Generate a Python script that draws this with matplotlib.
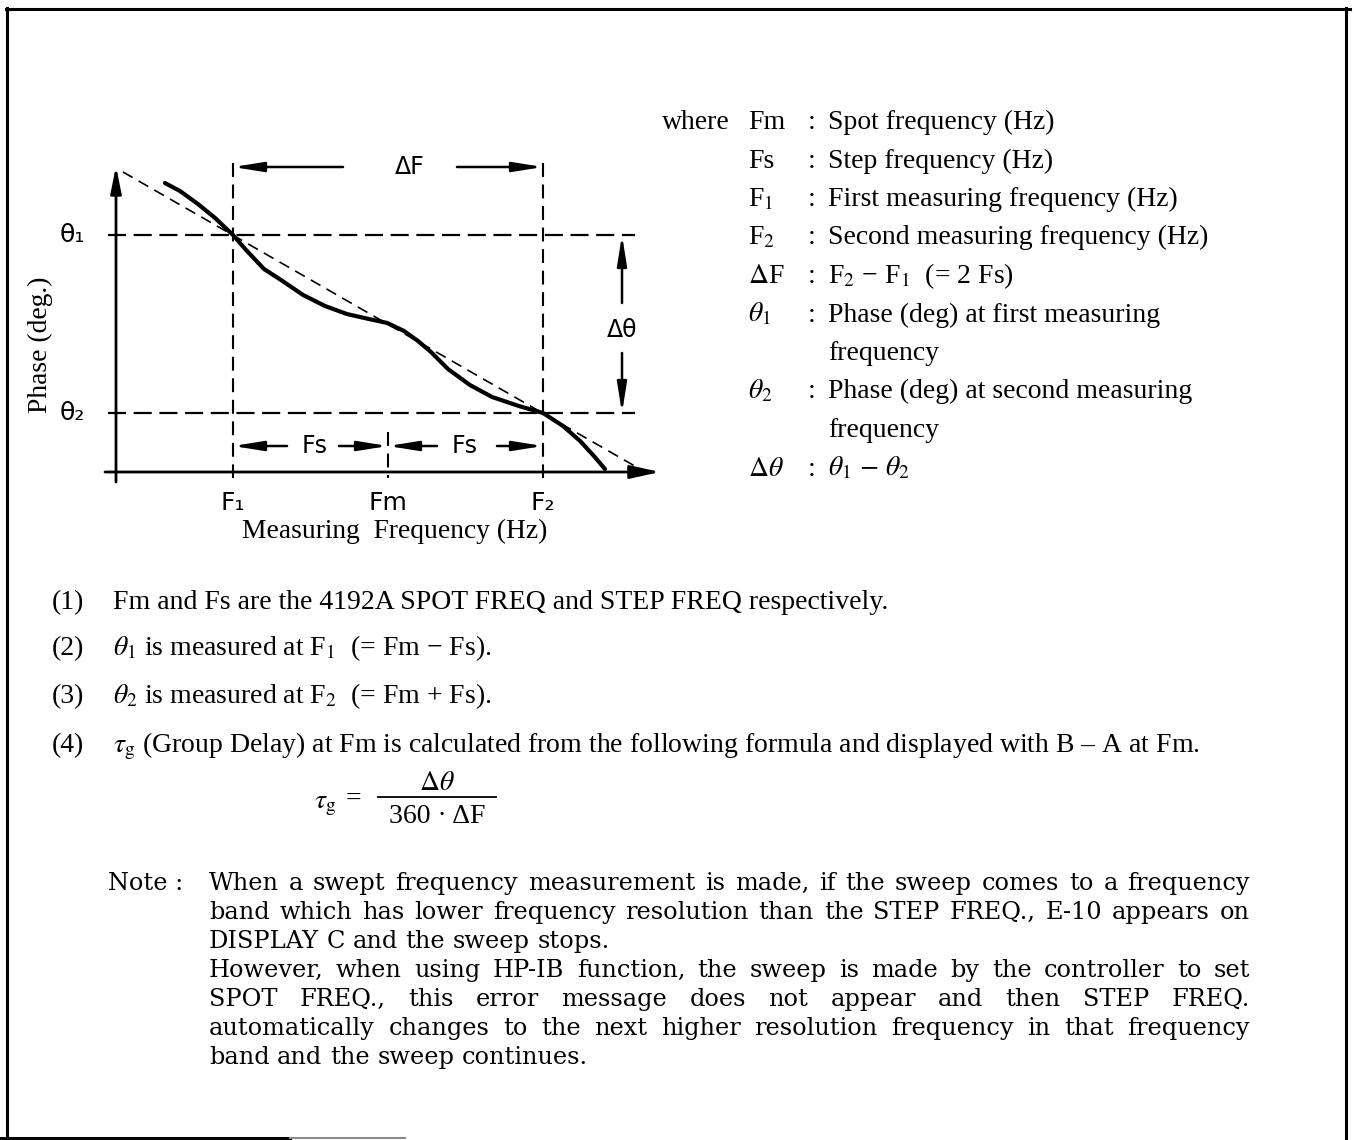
import matplotlib
matplotlib.use("Agg")
import matplotlib.pyplot as plt

plt.rcParams["mathtext.fontset"] = "stix"
plt.rcParams["lines.scale_dashes"] = False

W, H, DPI = 1354, 1140, 100

# ---------------- data (diagram units: frequency step = 1, phase step = 1) -------------
freq_F1, freq_Fm, freq_F2 = 1.0, 2.0, 3.0
phase_theta1, phase_theta2 = 2.0, 1.0

curve_freq = [0.561, 0.658, 0.774, 0.884, 1.000, 1.084, 1.200, 1.310, 1.452, 1.594,
              1.735, 1.877, 1.994, 2.103, 2.194, 2.277, 2.387, 2.529, 2.671, 2.845,
              3.000, 3.129, 3.239, 3.329, 3.400]
curve_phase = [2.292, 2.247, 2.174, 2.096, 2.000, 1.916, 1.809, 1.747, 1.663, 1.601,
               1.556, 1.528, 1.506, 1.461, 1.404, 1.343, 1.247, 1.157, 1.090, 1.039,
               1.000, 0.927, 0.843, 0.758, 0.685]
trend_freq = [0.290, 3.626]
trend_phase = [2.354, 0.685]

freq_tick_labels = ["F\u2081", "Fm", "F\u2082"]
phase_tick_labels = ["\u03b8\u2081", "\u03b8\u2082"]

where_symbols = ["Fm", "Fs", "F$_1$", "F$_2$", "$\\Delta$F", "$\\theta_1$", "",
                 "$\\theta_2$", "", "$\\Delta\\theta$"]
where_texts = ["Spot frequency (Hz)", "Step frequency (Hz)", "First measuring frequency (Hz)",
               "Second measuring frequency (Hz)", "F$_2$ \u2212 F$_1$  (= 2 Fs)",
               "Phase (deg) at first measuring", "frequency",
               "Phase (deg) at second measuring", "frequency",
               "$\\theta_1$ $-$ $\\theta_2$"]

item_numbers = ["(1)", "(2)", "(3)", "(4)"]
item_texts = ["Fm and Fs are the 4192A SPOT FREQ and STEP FREQ respectively.",
              "$\\theta_1$ is measured at F$_1$  (= Fm \u2212 Fs).",
              "$\\theta_2$ is measured at F$_2$  (= Fm + Fs).",
              "$\\tau_{\\rm g}$ (Group Delay) at Fm is calculated from the following formula "
              "and displayed with B \u2013 A at Fm."]

note_lines = [
    "When a swept frequency measurement is made, if the sweep comes to a frequency",
    "band which has lower frequency resolution than the STEP FREQ., E-10 appears on",
    "DISPLAY C and the sweep stops.",
    "However, when using HP-IB function, the sweep is made by the controller to set",
    "SPOT FREQ., this error message does not appear and then STEP FREQ.",
    "automatically changes to the next higher resolution frequency in that frequency",
    "band and the sweep continues.",
]
note_justified = [True, True, False, True, True, True, False]

# ---------------- figure -------------------------------------------------------------
fig = plt.figure(figsize=(W / DPI, H / DPI), dpi=DPI)
fig.patch.set_facecolor("white")

ov = fig.add_axes([0, 0, 1, 1])
ov.set_xlim(0, W)
ov.set_ylim(H, 0)
ov.axis("off")

# diagram axes, pixel box
PX0, PX1, PY0, PY1 = 100, 670, 150, 495
def px2x(px):
    return (px - 233) / 155.0 + 1.0
def py2y(py):
    return (413 - py) / 178.0 + 1.0

ax = fig.add_axes([PX0 / W, 1 - PY1 / H, (PX1 - PX0) / W, (PY1 - PY0) / H])
ax.set_xlim(px2x(PX0), px2x(PX1))
ax.set_ylim(py2y(PY1), py2y(PY0))
ax.axis("off")
ax.patch.set_alpha(0)

K = "black"
SANS = "DejaVu Sans"
x_axis_y = py2y(472)
y_axis_x = px2x(116)

# axes with arrows
ax.annotate("", xy=(px2x(660), x_axis_y), xytext=(px2x(105), x_axis_y),
            arrowprops=dict(arrowstyle="-|>,head_length=0.9,head_width=0.2", lw=2.0, color=K,
                            shrinkA=0, shrinkB=0, mutation_scale=20))
ax.annotate("", xy=(y_axis_x, py2y(166)), xytext=(y_axis_x, py2y(482)),
            arrowprops=dict(arrowstyle="-|>,head_length=0.8,head_width=0.16", lw=2.0, color=K,
                            shrinkA=0, shrinkB=0, mutation_scale=20))

# dashed guide lines
for ph in (phase_theta1, phase_theta2):
    ax.plot([px2x(108), px2x(635)], [ph, ph], color=K, lw=1.6, dashes=(13, 5.5))
for fr in (freq_F1, freq_F2):
    ax.plot([fr, fr], [py2y(163), py2y(478)], color=K, lw=1.5, dashes=(10, 5.5))
ax.plot([freq_Fm, freq_Fm], [py2y(432), py2y(478)], color=K, lw=1.5, dashes=(10, 5.5))

# trend (dashed diagonal) and the phase curve
ax.plot(trend_freq, trend_phase, color=K, lw=1.2, dashes=(8, 5))
ax.plot(curve_freq, curve_phase, color=K, lw=3.0, solid_capstyle="round", solid_joinstyle="round")

# dimension arrows
arr = dict(arrowstyle="-|>,head_length=1.0,head_width=0.16", lw=1.8, color=K,
           shrinkA=0, shrinkB=0, mutation_scale=18)
yDF = py2y(167)
ax.annotate("", xy=(freq_F1, yDF), xytext=(px2x(343), yDF), arrowprops=arr)
ax.annotate("", xy=(freq_F2, yDF), xytext=(px2x(457), yDF), arrowprops=arr)
ax.text(px2x(410), yDF, "\u0394F", ha="center", va="center", fontsize=17, family=SANS)

xDT = px2x(622)
ax.annotate("", xy=(xDT, phase_theta1), xytext=(xDT, py2y(303)), arrowprops=arr)
ax.annotate("", xy=(xDT, phase_theta2), xytext=(xDT, py2y(353)), arrowprops=arr)
ax.text(xDT, py2y(330), "\u0394\u03b8", ha="center", va="center", fontsize=17, family=SANS)

yFS = py2y(446)
ax.annotate("", xy=(freq_F1, yFS), xytext=(px2x(287), yFS), arrowprops=arr)
ax.annotate("", xy=(freq_Fm, yFS), xytext=(px2x(339), yFS), arrowprops=arr)
ax.annotate("", xy=(freq_Fm, yFS), xytext=(px2x(437), yFS), arrowprops=arr)
ax.annotate("", xy=(freq_F2, yFS), xytext=(px2x(497), yFS), arrowprops=arr)
ax.text(px2x(315), yFS, "Fs", ha="center", va="center", fontsize=17, family=SANS)
ax.text(px2x(465), yFS, "Fs", ha="center", va="center", fontsize=17, family=SANS)

# tick labels
for fr, lab in zip([freq_F1, freq_Fm, freq_F2], freq_tick_labels):
    ax.text(fr, py2y(503), lab, ha="center", va="center", fontsize=18, family=SANS)
for ph, lab in zip([phase_theta1, phase_theta2], phase_tick_labels):
    ax.text(px2x(72), ph, lab, ha="center", va="center", fontsize=18, family=SANS)

ov.text(395, 531, "Measuring  Frequency (Hz)", ha="center", va="center", fontsize=19.8,
        family="Liberation Serif")
ov.text(40, 345, "Phase (deg.)", ha="center", va="center", rotation=90, fontsize=19.8,
        family="Liberation Serif")

# ---------------- right-hand legend block ----------------------------------------------
SER = dict(family="Liberation Serif", fontsize=20, va="baseline")
row_base = [129 + 38.5 * i for i in range(10)]
ov.text(662, row_base[0], "where", **SER)
for yb, sym, txt in zip(row_base, where_symbols, where_texts):
    if sym:
        ov.text(748, yb, sym, **SER)
        ov.text(808, yb, ":", **SER)
    ov.text(828, yb, txt, **SER)

# ---------------- numbered items --------------------------------------------------------
item_base = [609, 655, 703, 752]
for yb, n, t in zip(item_base, item_numbers, item_texts):
    ov.text(52, yb, n, **SER)
    ov.text(113, yb, t, **SER)

# formula
ov.text(314, 808, "$\\tau_{\\rm g}$", family="Liberation Serif", fontsize=20, va="baseline")
ov.text(346, 806, "=", family="Liberation Serif", fontsize=20, va="baseline")
ov.plot([378, 496], [797, 797], color=K, lw=1.3)
ov.text(437, 790, "$\\Delta\\theta$", family="Liberation Serif", fontsize=20,
        va="baseline", ha="center")
ov.text(437, 823, "360 \u00b7 \u0394F", family="Liberation Serif", fontsize=20,
        va="baseline", ha="center")

# ---------------- note (justified) ------------------------------------------------------
NOTE = dict(family="DejaVu Serif", fontsize=17.3, va="baseline")
ov.text(108, 890, "Note :", **NOTE)
fig.canvas.draw()
rend = fig.canvas.get_renderer()
_t1 = ov.text(300, 500, "a a", **NOTE)
_t2 = ov.text(300, 500, "aa", **NOTE)
space_w = _t1.get_window_extent(rend).width - _t2.get_window_extent(rend).width
_t1.remove()
_t2.remove()
NX0, NX1 = 209, 1250
for i, (line, just) in enumerate(zip(note_lines, note_justified)):
    yb = 890 + 29 * i
    words = line.split(" ")
    ts = [ov.text(NX0, yb, w, **NOTE) for w in words]
    widths = [t.get_window_extent(rend).width for t in ts]
    if just and len(words) > 1:
        gap = (NX1 - NX0 - sum(widths)) / (len(words) - 1)
    else:
        gap = space_w
    x = NX0
    for t, w in zip(ts, widths):
        t.set_x(x)
        x += w + gap

# ---------------- page frame ------------------------------------------------------------
ov.plot([6, 1350], [9, 9], color=K, lw=2.2)
ov.plot([7, 7], [8, 1140], color=K, lw=2.2)
ov.plot([1346, 1346], [8, 1140], color=K, lw=2.2)
ov.plot([0, 290], [1138, 1138], color=K, lw=2.2)
ov.plot([290, 405], [1138, 1138], color="0.55", lw=1.5)

fig.savefig("out.png", dpi=DPI, facecolor="white")
